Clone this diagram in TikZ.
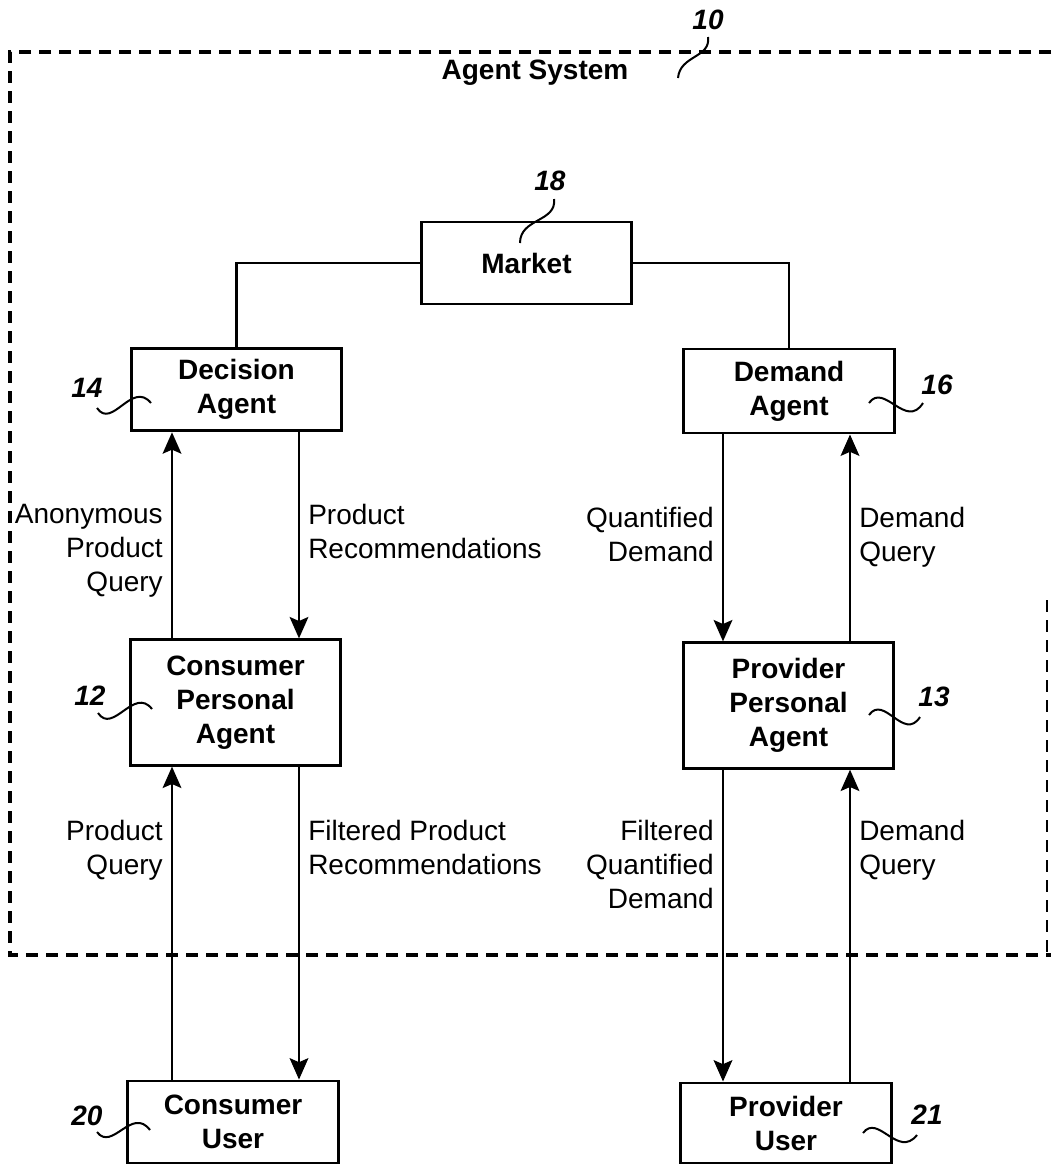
\documentclass[tikz,border=0pt]{standalone}
\usepackage{fontspec}
\setmainfont{Liberation Sans}
\usetikzlibrary{arrows.meta}

\begin{document}
\begin{tikzpicture}[x=0.75pt,y=-0.75pt,
	box/.style={draw,line width=2.2pt,minimum width=158pt,inner sep=0pt,align=center,font=\fontsize{21}{25.5}\selectfont\bfseries},
	flow/.style={line width=1.9pt,-{Stealth[length=16pt,width=14pt,inset=3pt]}},
	lbl/.style={font=\fontsize{21}{25.5}\selectfont,inner xsep=6pt,inner ysep=0pt},
	refnum/.style={font=\fontsize{21}{21}\selectfont\bfseries\itshape,inner sep=0pt},
	leader/.style={line width=1.5pt},
	border/.style={dash pattern=on 9pt off 6pt}]
	\useasboundingbox (0,0) rectangle (1051,1165);
	% agent system border
	\draw[border,line width=2.4pt] (1051,52) -- (10,52) -- (10,955) -- (1051,955);
	\draw[border,line width=1.4pt] (1047,600) -- (1047,955);
	\node[font=\fontsize{21}{25}\selectfont\bfseries] (sys) at (535,73) {Agent System};
	\node[refnum] (n10) at (708,20) {10};
	\draw[leader] (708,37) .. controls (711,58) and (680,55) .. (678,78);

	\node[box,minimum height=61.5pt] (mkt) at (526.5,263) {Market};
	\node[box,minimum height=62pt] (dec) at (236.5,389.5) {Decision\\Agent};
	\node[box,minimum height=63pt] (dem) at (789,391) {Demand\\Agent};
	\node[box,minimum height=94pt] (cpa) at (235.5,702.5) {Consumer\\Personal\\Agent};
	\node[box,minimum height=94pt] (ppa) at (788.5,705.5) {Provider\\Personal\\Agent};
	\node[box,minimum height=61.5pt] (cu) at (233,1122) {Consumer\\User};
	\node[box,minimum height=60pt] (pu) at (786,1123) {Provider\\User};

	\draw[line width=1.9pt] (mkt.west) -| (dec.north);
	\draw[line width=1.9pt] (mkt.east) -| (dem.north);

	\coordinate (cup) at (172,0);
	\coordinate (cdown) at (299,0);
	\coordinate (pdown) at (723,0);
	\coordinate (pup) at (850,0);

	% consumer side
	\draw[flow] (cup |- cpa.north) -- node[lbl,pos=0.655,anchor=north east,align=right] (aq) {Anonymous\\Product\\Query} (cup |- dec.south);
	\draw[flow] (cdown |- dec.south) -- node[lbl,pos=0.345,anchor=north west,align=left] (pr) {Product\\Recommendations} (cdown |- cpa.north);
	\draw[flow] (cup |- cu.north) -- node[lbl,pos=0.832,anchor=north east,align=right] (pq) {Product\\Query} (cup |- cpa.south);
	\draw[flow] (cdown |- cpa.south) -- node[lbl,pos=0.168,anchor=north west,align=left] (fpr) {Filtered Product\\Recommendations} (cdown |- cu.north);

	% provider side
	\draw[flow] (pdown |- dem.south) -- node[lbl,pos=0.345,anchor=north east,align=right] (qd) {Quantified\\Demand} (pdown |- ppa.north);
	\draw[flow] (pup |- ppa.north) -- node[lbl,pos=0.655,anchor=north west,align=left] (dq) {Demand\\Query} (pup |- dem.south);
	\draw[flow] (pdown |- ppa.south) -- node[lbl,pos=0.159,anchor=north east,align=right] (fqd) {Filtered\\Quantified\\Demand} (pdown |- pu.north);
	\draw[flow] (pup |- pu.north) -- node[lbl,pos=0.841,anchor=north west,align=left] (pdq) {Demand\\Query} (pup |- ppa.south);

	% reference numerals
	\node[refnum] (n18) at (550,181) {18};
	\draw[leader] (554,199) .. controls (557,222) and (520,218) .. (520,243);
	\node[refnum] (n14) at (87,388) {14};
	\draw[leader] (97,408) .. controls (112,430) and (132,380) .. (151,403);
	\node[refnum] (n16) at (937,385) {16};
	\draw[leader] (869,403) .. controls (884,382) and (906,430) .. (923,403);
	\node[refnum] (n12) at (90,696) {12};
	\draw[leader] (98,713) .. controls (113,735) and (134,686) .. (152,709);
	\node[refnum] (n13) at (934,697) {13};
	\draw[leader] (869,715) .. controls (884,694) and (904,742) .. (920,717);
	\node[refnum] (n20) at (87,1116) {20};
	\draw[leader] (97,1132) .. controls (112,1152) and (132,1106) .. (150,1130);
	\node[refnum] (n21) at (927,1115) {21};
	\draw[leader] (863,1133) .. controls (878,1113) and (898,1159) .. (917,1135);
\end{tikzpicture}
\end{document}
